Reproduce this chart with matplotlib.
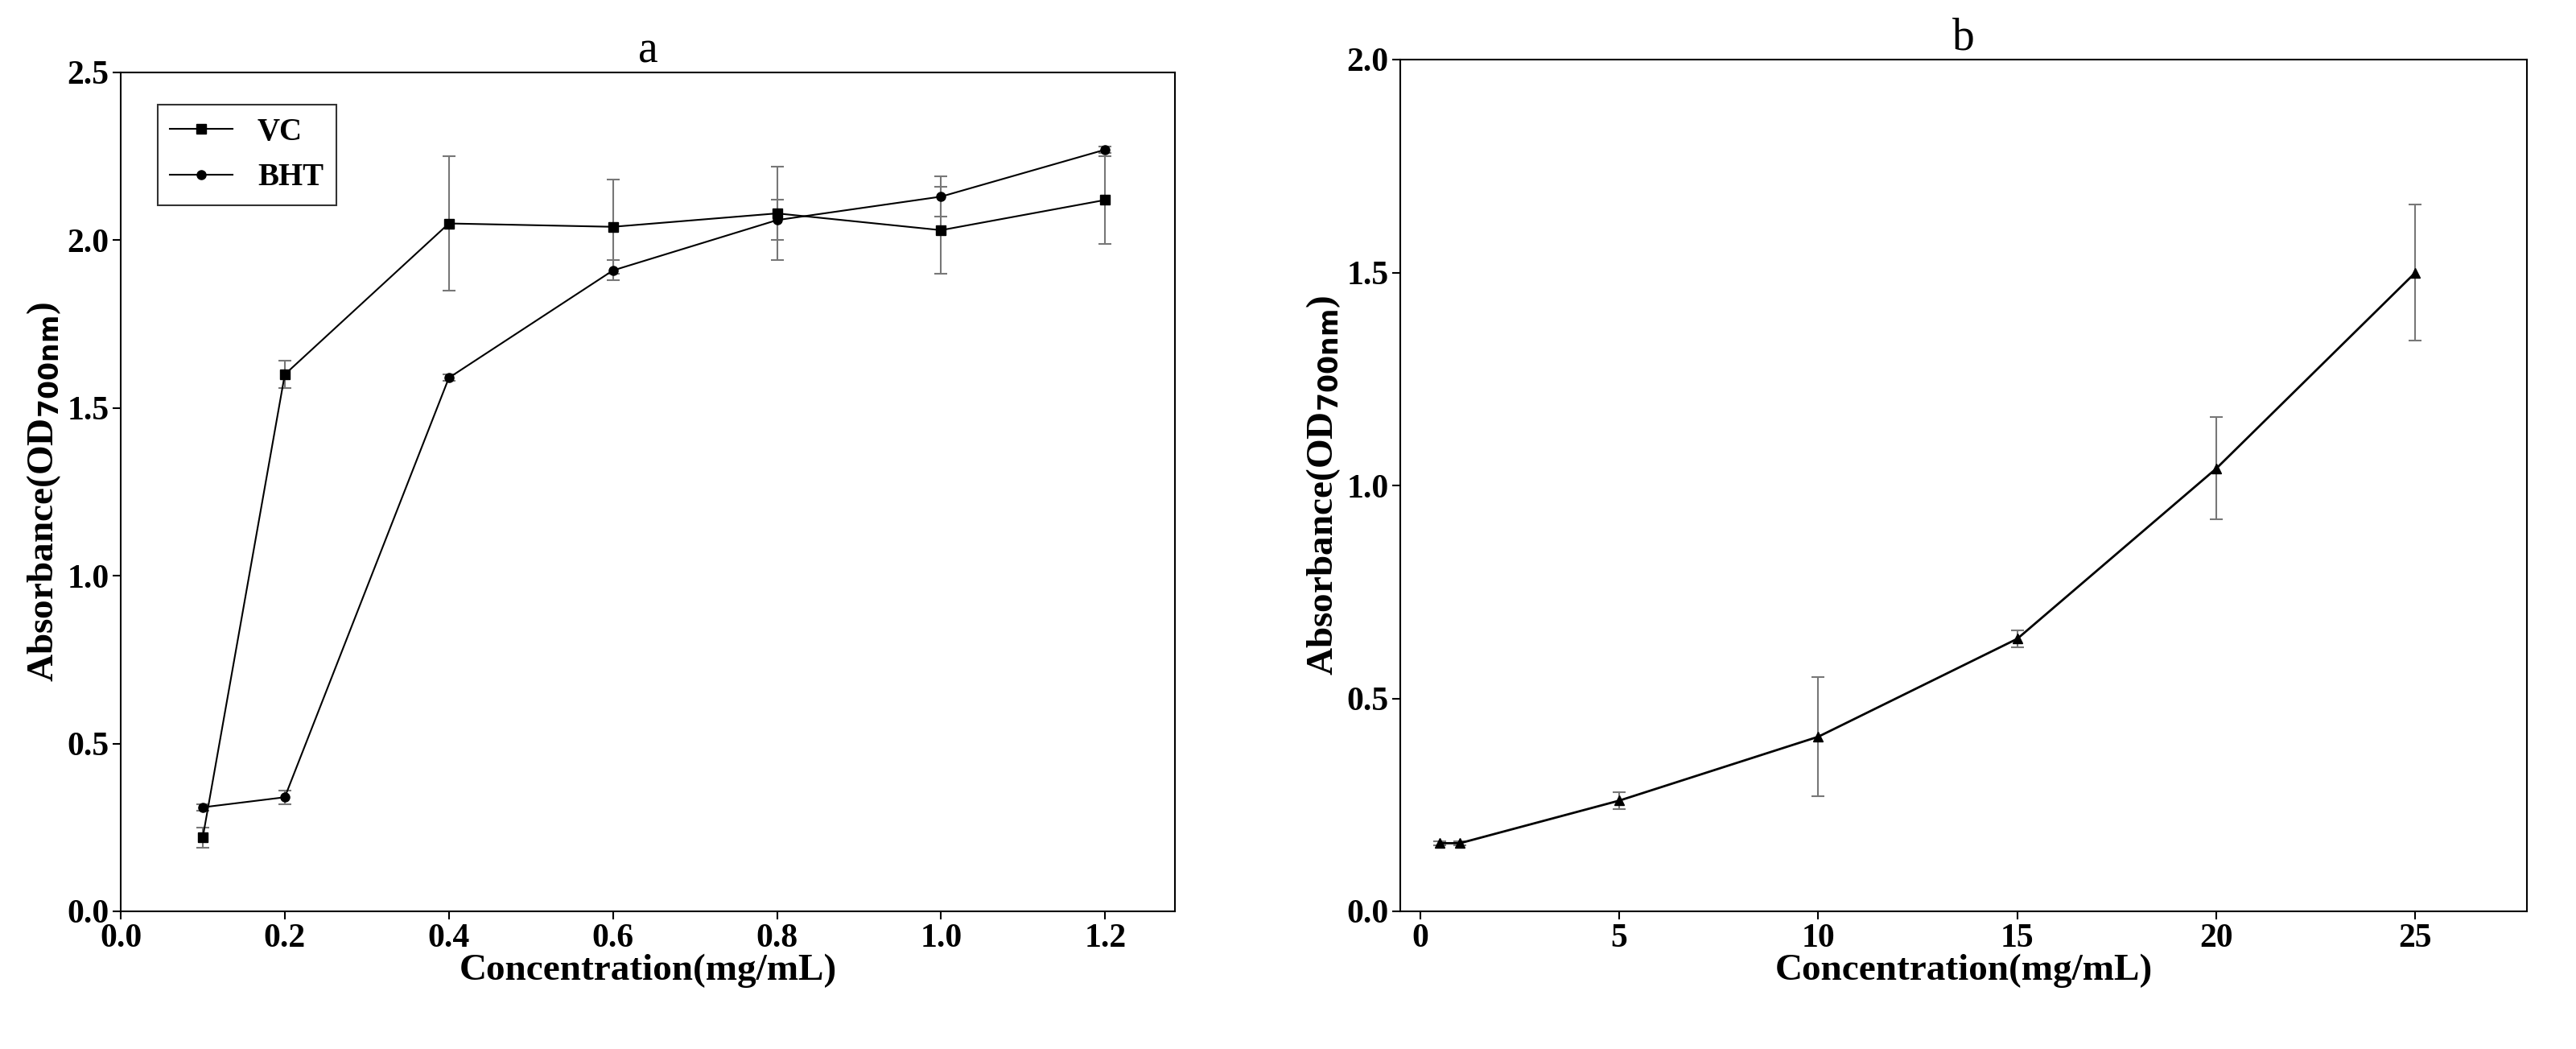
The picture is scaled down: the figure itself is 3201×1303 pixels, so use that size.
import matplotlib
matplotlib.use("Agg")
import matplotlib.pyplot as plt
from matplotlib.lines import Line2D

plt.rcParams['font.family'] = ['Liberation Serif', 'DejaVu Serif']
plt.rcParams['font.weight'] = 'bold'

a_x = [0.1, 0.2, 0.4, 0.6, 0.8, 1.0, 1.2]
vc_y = [0.22, 1.60, 2.05, 2.04, 2.08, 2.03, 2.12]
vc_err = [0.03, 0.04, 0.20, 0.14, 0.14, 0.13, 0.13]
bht_y = [0.31, 0.34, 1.59, 1.91, 2.06, 2.13, 2.27]
bht_err = [0.01, 0.02, 0.01, 0.03, 0.06, 0.06, 0.01]

b_x = [0.5, 1, 5, 10, 15, 20, 25]
b_y = [0.16, 0.16, 0.26, 0.41, 0.64, 1.04, 1.50]
b_err = [0.005, 0.005, 0.02, 0.14, 0.02, 0.12, 0.16]

fig = plt.figure(figsize=(32.01, 13.03), dpi=100)
ax1 = fig.add_axes([150/3201, 1-1132/1303, 1310/3201, 1042/1303])
ax2 = fig.add_axes([1740/3201, 1-1132/1303, 1400/3201, 1058/1303])

ekw = dict(ecolor='#777777', elinewidth=1.5, capsize=6, capthick=1.5)
ax1.errorbar(a_x, vc_y, yerr=vc_err, color='black', marker='s', ms=8, lw=1.5, **ekw)
ax1.errorbar(a_x, bht_y, yerr=bht_err, color='black', marker='o', ms=8, lw=1.5, **ekw)
handles = [Line2D([], [], color='black', marker='s', ms=8, lw=1.5),
           Line2D([], [], color='black', marker='o', ms=8, lw=1.5)]
ax1.set_xlim(0, 1.285)
ax1.set_ylim(0, 2.5)
ax1.set_xticks([0.0, 0.2, 0.4, 0.6, 0.8, 1.0, 1.2])
ax1.set_yticks([0.0, 0.5, 1.0, 1.5, 2.0, 2.5])
ax1.xaxis.set_major_formatter(matplotlib.ticker.FormatStrFormatter('%.1f'))
ax1.yaxis.set_major_formatter(matplotlib.ticker.FormatStrFormatter('%.1f'))
leg = ax1.legend(handles, ['VC', 'BHT'], loc='upper left', fontsize=28, frameon=True, fancybox=False,
                 edgecolor='black', bbox_to_anchor=(0.02, 0.98), handlelength=2.0)
leg.get_frame().set_linewidth(1.5)
ax1.set_title('a', fontsize=40, fontweight='normal')

ax2.errorbar(b_x, b_y, yerr=b_err, color='black', marker='^', ms=9, lw=2, **ekw)
ax2.set_xlim(-0.5, 27.8)
ax2.set_ylim(0, 2.0)
ax2.set_xticks([0, 5, 10, 15, 20, 25])
ax2.set_yticks([0.0, 0.5, 1.0, 1.5, 2.0])
ax2.yaxis.set_major_formatter(matplotlib.ticker.FormatStrFormatter('%.1f'))
ax2.set_title('b', fontsize=40, fontweight='normal')

for ax in (ax1, ax2):
    ax.set_xlabel('Concentration(mg/mL)', fontsize=34, fontweight='bold', labelpad=0)
    ax.set_ylabel(r'Absorbance(OD$_{\mathbf{700nm}}$)', fontsize=34, fontweight='bold')
    ax.tick_params(labelsize=30, width=1.5, length=7)
    for s in ax.spines.values():
        s.set_linewidth(1.5)

fig.savefig('out.png', dpi=100)
